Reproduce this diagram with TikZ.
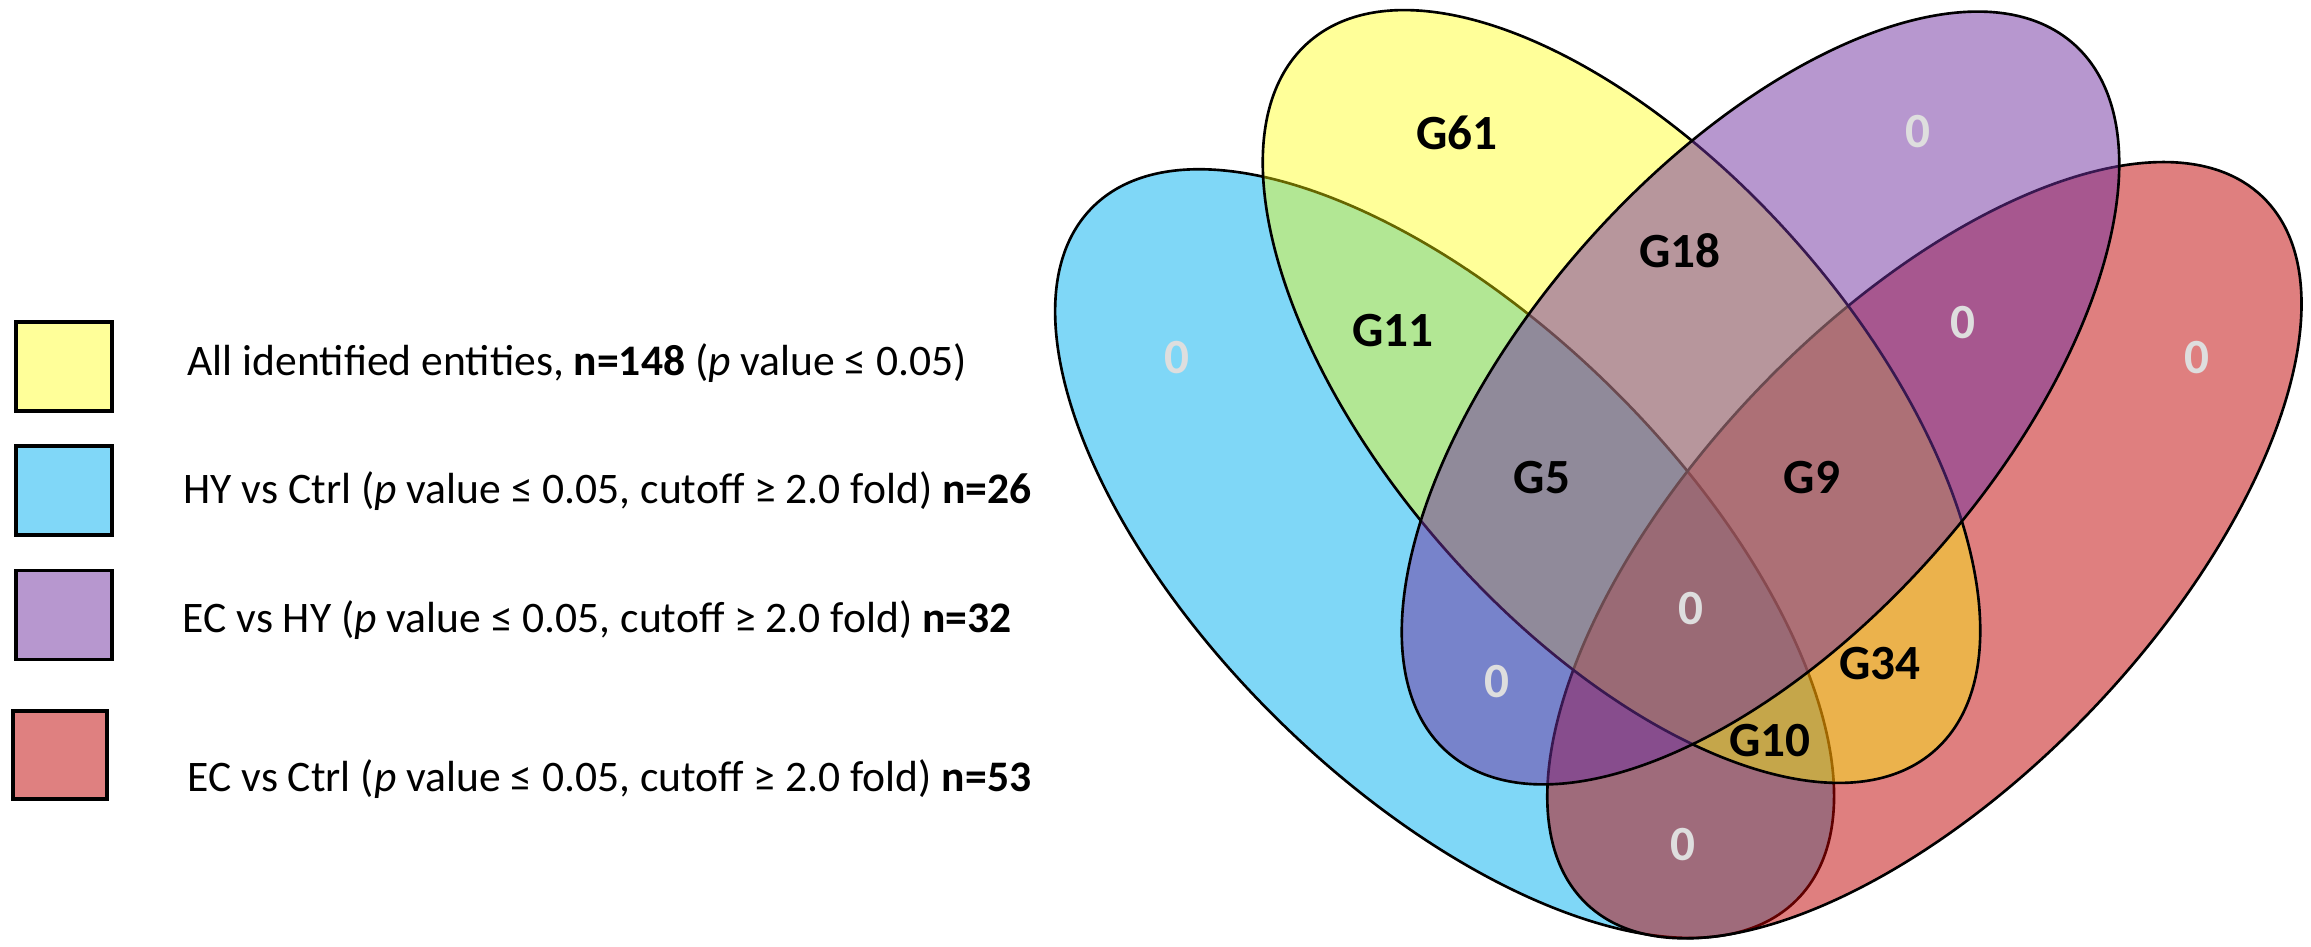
\documentclass[tikz,border=0pt]{standalone}
\usepackage{fontspec}
\setmainfont{Carlito}
\definecolor{setblue}{RGB}{0,176,240}
\definecolor{setred}{RGB}{192,0,0}
\definecolor{setyellow}{RGB}{255,255,0}
\definecolor{setpurple}{RGB}{112,48,160}
\definecolor{zerogray}{RGB}{222,222,222}
\begin{document}
\begin{tikzpicture}[
    venn/.style={draw=black, line width=0.75pt},
    legbox/.style={draw=black, line width=1pt, rectangle, inner sep=0pt,
        minimum width=0.96cm, minimum height=0.89cm},
    legtext/.style={anchor=base west, inner sep=0pt, font=\fontsize{12.4}{14}\selectfont},
    glabel/.style={font=\fontsize{14}{16}\selectfont\bfseries, text=black},
    zlabel/.style={font=\fontsize{14}{16}\selectfont\bfseries, text=zerogray}
]
\useasboundingbox (0,0) rectangle (23.11,9.46);

% HY vs Ctrl set
\draw[venn, fill=setblue, fill opacity=0.5, rotate around={-44.4:(14.446,3.924)}]
    (14.446,3.924) ellipse [x radius=4.939, y radius=2.353];
% EC vs Ctrl set
\draw[venn, fill=setred, fill opacity=0.5, rotate around={46.3:(19.244,3.958)}]
    (19.244,3.958) ellipse [x radius=4.891, y radius=2.314];
% All identified entities
\draw[venn, fill=setyellow, fill opacity=0.4, rotate around={-48.5:(16.215,5.495)}]
    (16.215,5.495) ellipse [x radius=4.727, y radius=2.334];
% EC vs HY set
\draw[venn, fill=setpurple, fill opacity=0.5, rotate around={48.5:(17.605,5.48)}]
    (17.605,5.48) ellipse [x radius=4.727, y radius=2.334];

% Region counts
\node[glabel] (g61) at (14.57,8.13) {G61};
\node[zlabel] (onlyechy) at (19.18,8.14) {0};
\node[glabel] (g18) at (16.80,6.95) {G18};
\node[glabel] (g11) at (13.93,6.15) {G11};
\node[zlabel] (onlyhyctrl) at (11.77,5.88) {0};
\node[zlabel] (echyecctrl) at (19.63,6.23) {0};
\node[zlabel] (onlyecctrl) at (21.97,5.88) {0};
\node[glabel] (g5) at (15.42,4.68) {G5};
\node[glabel] (g9) at (18.12,4.68) {G9};
\node[zlabel] (allfour) at (16.91,3.37) {0};
\node[zlabel] (hyecpair) at (14.97,2.64) {0};
\node[glabel] (g34) at (18.80,2.82) {G34};
\node[glabel] (g10) at (17.70,2.05) {G10};
\node[zlabel] (ctrlpair) at (16.83,1.01) {0};

% Legend
\node[legbox, fill=setyellow!40] (boxall) at (0.64,5.795) {};
\node[legtext] (txtall) at (1.87,5.71) {All identified entities, \textbf{n=148} (\textit{p} value ≤ 0.05)};
\node[legbox, fill=setblue!50] (boxhy) at (0.64,4.555) {};
\node[legtext] (txthy) at (1.83,4.43) {HY vs Ctrl (\textit{p} value ≤ 0.05, cutoff ≥ 2.0 fold) \textbf{n=26}};
\node[legbox, fill=setpurple!50] (boxechy) at (0.64,3.31) {};
\node[legtext] (txtechy) at (1.82,3.14) {EC vs HY (\textit{p} value ≤ 0.05, cutoff ≥ 2.0 fold) \textbf{n=32}};
\node[legbox, fill=setred!50, minimum width=0.94cm, minimum height=0.88cm] (boxec) at (0.60,1.91) {};
\node[legtext] (txtec) at (1.87,1.55) {EC vs Ctrl (\textit{p} value ≤ 0.05, cutoff ≥ 2.0 fold) \textbf{n=53}};

\end{tikzpicture}
\end{document}
